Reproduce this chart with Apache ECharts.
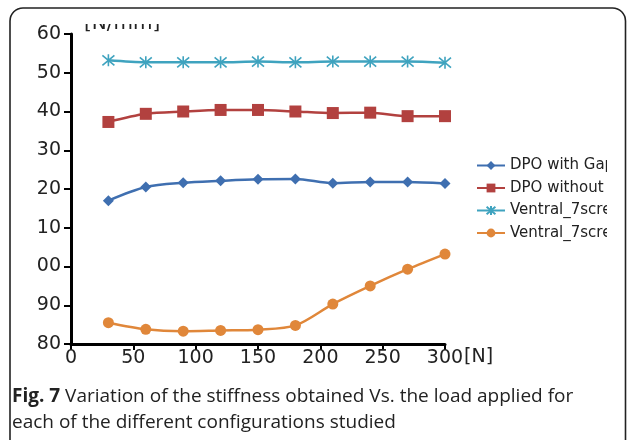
<!DOCTYPE html>
<html>
<head>
<meta charset="utf-8">
<script src="https://cdn.jsdelivr.net/npm/echarts@6/dist/echarts.min.js"></script>
<style>
html,body{margin:0;padding:0;background:#fff;}
#c{width:627px;height:440px;}
</style>
</head>
<body>
<div id="c"></div>
<script>
const loads = [30, 60, 90, 120, 150, 180, 210, 240, 270, 300];
const dpoWithGap = [217.0, 220.5, 221.6, 222.1, 222.5, 222.6, 221.5, 221.8, 221.8, 221.4];
const dpoWithout = [237.3, 239.4, 240.0, 240.4, 240.4, 240.0, 239.6, 239.7, 238.8, 238.8];
const ventralA = [253.2, 252.7, 252.7, 252.7, 252.9, 252.7, 252.9, 252.9, 252.9, 252.6];
const ventralB = [185.5, 183.8, 183.3, 183.5, 183.7, 184.8, 190.3, 195.0, 199.3, 203.2];
const seriesNames = ['DPO with Gap', 'DPO without', 'Ventral_7scre', 'Ventral_7scre '];
const yTickValues = [180, 190, 200, 210, 220, 230, 240, 250, 260];
const yTickLabels = ['80', '90', '00', '10', '20', '30', '40', '50', '60'];
const xTickLabels = ['0', '50', '100', '150', '200', '250', '300'];

const colors = ['#3F6FB0', '#B2413F', '#3FA3BF', '#E0873A'];
const pair = (ys) => loads.map((x, i) => [x, ys[i]]);
const asterisk = 'path://M0,0L10,10M10,0L0,10M5,-1L5,11';

const chart = echarts.init(document.getElementById('c'));
const fontAxis = 'DejaVu Sans';

function mk(name, data, color, symbol, size, extra) {
  return Object.assign({
    name: name,
    type: 'line',
    data: pair(data),
    smooth: 0.3,
    symbol: symbol,
    symbolSize: size,
    lineStyle: { color: color, width: 2.5 },
    itemStyle: { color: color },
    z: 3
  }, extra || {});
}

chart.setOption({
  animation: false,
  backgroundColor: '#fff',
  color: colors,
  grid: { left: 71, right: 182, top: 34, bottom: 96, containLabel: false },
  legend: {
    orient: 'vertical',
    left: 471,
    top: 153,
    itemWidth: 28,
    itemHeight: 11,
    itemGap: 7.5,
    data: seriesNames,
    textStyle: { fontFamily: fontAxis, fontSize: 15, color: '#222', padding: [0, 0, 0, 0] }
  },
  xAxis: {
    type: 'value',
    min: 0, max: 300, interval: 50,
    name: '[N]',
    nameLocation: 'end',
    nameGap: 19,
    nameMoveOverlap: false,
    nameTextStyle: { fontFamily: fontAxis, fontSize: 19, color: '#222', align: 'left', verticalAlign: 'top', padding: [4, 0, 0, 0] },
    axisLine: { show: true, lineStyle: { color: '#000', width: 3 } },
    axisTick: { show: true, length: 6, lineStyle: { color: '#000', width: 2 } },
    axisLabel: {
      fontFamily: fontAxis, fontSize: 19, color: '#222', margin: 5,
      formatter: (v) => xTickLabels[Math.round(v / 50)]
    },
    splitLine: { show: false }
  },
  yAxis: {
    type: 'value',
    min: 180, max: 260, interval: 10,
    name: '[N/mm]',
    nameLocation: 'end',
    nameGap: 0,
    nameMoveOverlap: false,
    nameTextStyle: { fontFamily: fontAxis, fontSize: 20, color: '#222', align: 'left', verticalAlign: 'bottom', padding: [0, 0, 0, 13] },
    axisLine: { show: true, lineStyle: { color: '#000', width: 3 } },
    axisTick: { show: true, length: 7, lineStyle: { color: '#000', width: 2 } },
    axisLabel: {
      fontFamily: fontAxis, fontSize: 19, color: '#222', margin: 10,
      formatter: (v) => yTickLabels[yTickValues.indexOf(Math.round(v))]
    },
    splitLine: { show: false }
  },
  series: [
    mk(seriesNames[0], dpoWithGap, colors[0], 'diamond', 11),
    mk(seriesNames[1], dpoWithout, colors[1], 'rect', 12),
    mk(seriesNames[2], ventralA, colors[2], asterisk, 12, {
      itemStyle: { color: colors[2], borderColor: colors[2], borderWidth: 1.6 }
    }),
    mk(seriesNames[3], ventralB, colors[3], 'circle', 11)
  ],
  graphic: [
    { type: 'rect', z: 100, shape: { x: 74, y: 10, width: 110, height: 14 }, style: { fill: '#fff' } },
    { type: 'rect', z: 100, shape: { x: 607, y: 150, width: 17, height: 100 }, style: { fill: '#fff' } },
    { type: 'rect', z: 101, shape: { x: 10, y: 8, width: 615.5, height: 520, r: 13 }, style: { fill: 'none', stroke: '#222', lineWidth: 1.6 } },
    {
      type: 'text', z: 101, left: 12, top: 384,
      style: {
        text: '{b|Fig. 7} Variation of the stiffness obtained Vs. the load applied for\neach of the different configurations studied',
        fontFamily: 'Open Sans', fontSize: 19, lineHeight: 26, fill: '#222',
        rich: { b: { fontFamily: 'Open Sans', fontWeight: 'bold', fontSize: 19, fill: '#222' } }
      }
    }
  ]
});
</script>
</body>
</html>
